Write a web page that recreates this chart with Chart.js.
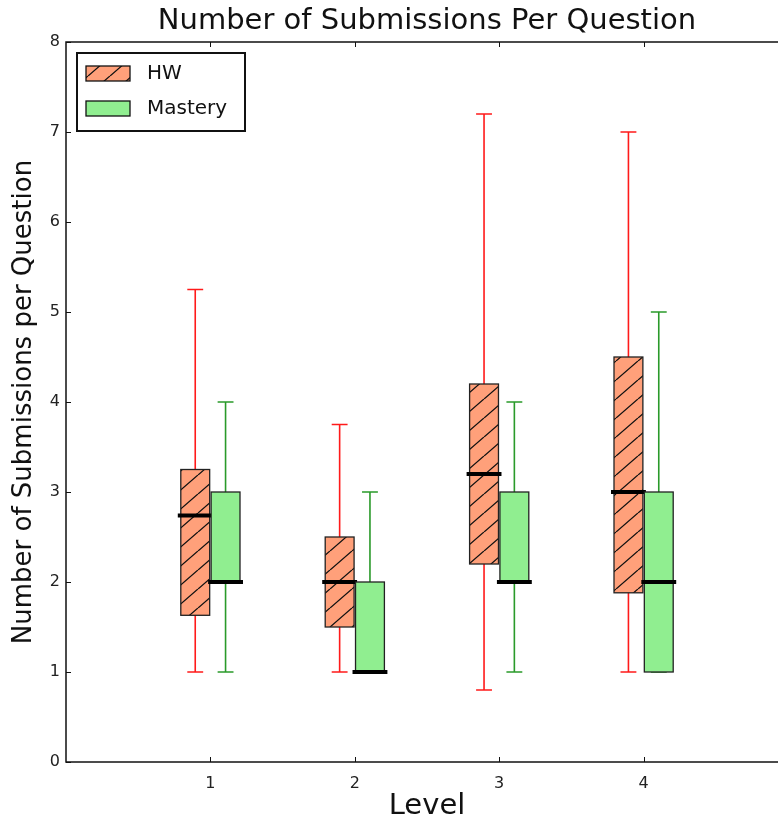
<!DOCTYPE html>
<html>
<head>
<meta charset="utf-8">
<script src="https://cdn.jsdelivr.net/npm/chart.js@4/dist/chart.umd.min.js"></script>
<style>
  html, body { margin: 0; padding: 0; background: #fff; }
  #wrap { width: 778px; height: 824px; overflow: hidden; position: relative; }
  #chart { position: absolute; left: 0; top: 0; }
</style>
</head>
<body>
<div id="wrap"><canvas id="chart" width="800" height="824"></canvas></div>
<script>
var levels = [1, 2, 3, 4];
var xTickLabels = ['1', '2', '3', '4'];

// HW box plot stats per level
var hwLow = [1, 1, 0.8, 1];
var hwQ1 = [1.63, 1.5, 2.2, 1.88];
var hwMedian = [2.74, 2.0, 3.2, 3.0];
var hwQ3 = [3.25, 2.5, 4.2, 4.5];
var hwHigh = [5.25, 3.75, 7.2, 7.0];

// Mastery box plot stats per level
var masteryLow = [1, 1, 1, 1];
var masteryQ1 = [2, 1, 2, 1];
var masteryMedian = [2, 1, 2, 2];
var masteryQ3 = [3, 2, 3, 3];
var masteryHigh = [4, 3, 4, 5];

var hwFill = '#ffa07a';
var masteryFill = '#90ee90';
var hwWhisker = '#ff1a1a';
var masteryWhisker = '#2a9a2a';

function makeHatch() {
    var w = 22, h = 19;
    var c = document.createElement('canvas');
    c.width = w; c.height = h;
    var g = c.getContext('2d');
    g.strokeStyle = '#111';
    g.lineWidth = 1.3;
    g.beginPath();
    g.moveTo(0, h); g.lineTo(w, 0);
    g.moveTo(-w, h); g.lineTo(0, 0);
    g.moveTo(w, h); g.lineTo(2 * w, 0);
    g.stroke();
    return g.createPattern(c, 'repeat');
}

function drawBox(ctx, xs, ys, pos, low, q1, med, q3, high, fill, pattern, wColor) {
    var half = 0.1;
    var capHalf = 0.055;
    var cx = xs.getPixelForValue(pos);
    var left = xs.getPixelForValue(pos - half);
    var right = xs.getPixelForValue(pos + half);
    var top = ys.getPixelForValue(q3);
    var bottom = ys.getPixelForValue(q1);
    var capL = xs.getPixelForValue(pos - capHalf);
    var capR = xs.getPixelForValue(pos + capHalf);

    // whiskers
    ctx.strokeStyle = wColor;
    ctx.lineWidth = 1.6;
    ctx.beginPath();
    ctx.moveTo(cx, top); ctx.lineTo(cx, ys.getPixelForValue(high));
    ctx.moveTo(capL, ys.getPixelForValue(high)); ctx.lineTo(capR, ys.getPixelForValue(high));
    ctx.moveTo(cx, bottom); ctx.lineTo(cx, ys.getPixelForValue(low));
    ctx.moveTo(capL, ys.getPixelForValue(low)); ctx.lineTo(capR, ys.getPixelForValue(low));
    ctx.stroke();

    // box
    ctx.fillStyle = fill;
    ctx.fillRect(left, top, right - left, bottom - top);
    if (pattern) {
        ctx.fillStyle = pattern;
        ctx.fillRect(left, top, right - left, bottom - top);
    }
    ctx.strokeStyle = '#222';
    ctx.lineWidth = 1.3;
    ctx.strokeRect(left, top, right - left, bottom - top);

    // median
    var m = ys.getPixelForValue(med);
    ctx.strokeStyle = '#000';
    ctx.lineWidth = 4;
    ctx.beginPath();
    ctx.moveTo(left - 3, m); ctx.lineTo(right + 3, m);
    ctx.stroke();
}

var boxPlugin = {
    id: 'boxes',
    afterDatasetsDraw: function(chart) {
        var ctx = chart.ctx;
        var xs = chart.scales.x, ys = chart.scales.y;
        var area = chart.chartArea;
        var hatch = makeHatch();
        ctx.save();
        for (var i = 0; i < levels.length; i++) {
            drawBox(ctx, xs, ys, levels[i] - 0.105, hwLow[i], hwQ1[i], hwMedian[i], hwQ3[i], hwHigh[i], hwFill, hatch, hwWhisker);
            drawBox(ctx, xs, ys, levels[i] + 0.105, masteryLow[i], masteryQ1[i], masteryMedian[i], masteryQ3[i], masteryHigh[i], masteryFill, null, masteryWhisker);
        }

        // frame and inward ticks
        ctx.strokeStyle = '#111';
        ctx.lineWidth = 1.5;
        ctx.strokeRect(area.left, area.top, area.right - area.left, area.bottom - area.top);
        ctx.lineWidth = 1;
        ctx.beginPath();
        ys.ticks.forEach(function(t) {
            var py = Math.round(ys.getPixelForValue(t.value)) + 0.5;
            ctx.moveTo(area.left, py); ctx.lineTo(area.left + 5, py);
            ctx.moveTo(area.right, py); ctx.lineTo(area.right - 5, py);
        });
        levels.forEach(function(v) {
            var px = Math.round(xs.getPixelForValue(v)) + 0.5;
            ctx.moveTo(px, area.bottom); ctx.lineTo(px, area.bottom - 5);
            ctx.moveTo(px, area.top); ctx.lineTo(px, area.top + 5);
        });
        ctx.stroke();

        // title
        ctx.fillStyle = '#111';
        ctx.font = '29px "DejaVu Sans"';
        ctx.textAlign = 'center';
        ctx.textBaseline = 'middle';
        ctx.fillText('Number of Submissions Per Question', (area.left + area.right) / 2, 21);

        // legend
        var lx = 77, ly = 53, lw = 168, lh = 78;
        ctx.fillStyle = '#fff';
        ctx.fillRect(lx, ly, lw, lh);
        ctx.strokeStyle = '#111';
        ctx.lineWidth = 2;
        ctx.strokeRect(lx, ly, lw, lh);
        var entries = [
            { label: 'HW', fill: hwFill, pattern: hatch, y: 66 },
            { label: 'Mastery', fill: masteryFill, pattern: null, y: 101 }
        ];
        entries.forEach(function(e) {
            ctx.fillStyle = e.fill;
            ctx.fillRect(86, e.y, 44, 15);
            if (e.pattern) {
                ctx.fillStyle = e.pattern;
                ctx.fillRect(86, e.y, 44, 15);
            }
            ctx.strokeStyle = '#111';
            ctx.lineWidth = 1.3;
            ctx.strokeRect(86, e.y, 44, 15);
            ctx.fillStyle = '#111';
            ctx.font = '20px "DejaVu Sans"';
            ctx.textAlign = 'left';
            ctx.textBaseline = 'middle';
            ctx.fillText(e.label, 147, e.y + 8);
        });
        ctx.restore();
    }
};

var ctx = document.getElementById('chart').getContext('2d');
var chart = new Chart(ctx, {
    type: 'scatter',
    data: {
        datasets: [
            {
                label: 'HW',
                data: levels.map(function(l, i) { return { x: l - 0.105, y: hwMedian[i] }; }),
                pointRadius: 0,
                backgroundColor: hwFill
            },
            {
                label: 'Mastery',
                data: levels.map(function(l, i) { return { x: l + 0.105, y: masteryMedian[i] }; }),
                pointRadius: 0,
                backgroundColor: masteryFill
            }
        ]
    },
    options: {
        responsive: false,
        animation: false,
        events: [],
        layout: {
            padding: { top: 42, right: 10, left: 0, bottom: 0 }
        },
        plugins: {
            legend: { display: false },
            title: { display: false },
            tooltip: { enabled: false }
        },
        scales: {
            x: {
                type: 'linear',
                min: 0,
                max: 5,
                afterFit: function(scale) { scale.height = 62; },
                grid: { display: false, drawTicks: false },
                border: { display: false },
                ticks: {
                    stepSize: 1,
                    padding: 12,
                    maxRotation: 0,
                    autoSkip: false,
                    color: '#222',
                    font: { size: 16, family: 'DejaVu Sans' },
                    callback: function(v) {
                        var idx = levels.indexOf(v);
                        return idx >= 0 ? xTickLabels[idx] : '';
                    }
                },
                title: {
                    display: true,
                    text: 'Level',
                    color: '#111',
                    font: { size: 29, family: 'DejaVu Sans' },
                    padding: { top: 0, bottom: 0 }
                }
            },
            y: {
                min: 0,
                max: 8,
                afterFit: function(scale) { scale.width = 66; },
                grid: { display: false, drawTicks: false },
                border: { display: false },
                ticks: {
                    stepSize: 1,
                    padding: 6,
                    color: '#222',
                    font: { size: 16, family: 'DejaVu Sans' }
                },
                title: {
                    display: true,
                    text: 'Number of Submissions per Question',
                    color: '#111',
                    font: { size: 26, family: 'DejaVu Sans' },
                    padding: { top: 9, bottom: 0 }
                }
            }
        }
    },
    plugins: [boxPlugin]
});
</script>
</body>
</html>
